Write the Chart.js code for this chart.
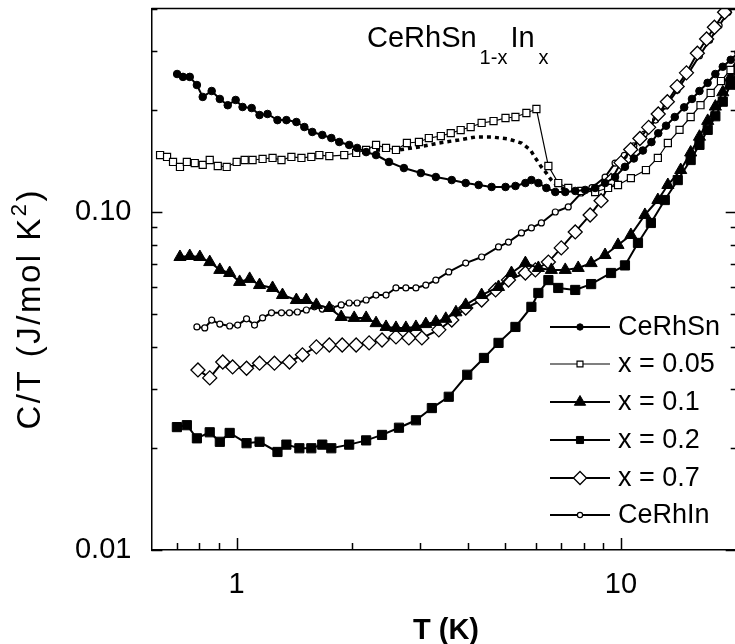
<!DOCTYPE html>
<html>
<head>
<meta charset="utf-8">
<script src="https://cdn.jsdelivr.net/npm/chart.js@4/dist/chart.umd.min.js"></script>
<style>
  html, body { margin: 0; padding: 0; background: #fff; overflow: hidden; }
  #wrap { width: 745px; height: 644px; }
</style>
</head>
<body>
<div id="wrap"><canvas id="chart" width="745" height="644"></canvas></div>
<script>
// T (K) and C/T (J/mol K^2)
const tCeRhSn = [0.70,0.725,0.755,0.788,0.816,0.861,0.904,0.948,0.994,1.036,1.094,1.147,1.203,1.277,1.347,1.43,1.50,1.573,1.67,1.763,1.849,1.962,2.058,2.172,2.305,2.491,2.724,3.015,3.298,3.628,3.944,4.262,4.606,5.006,5.313,5.639,5.846,6.095,6.394,6.746,7.16,7.602,8.069,8.564,9.09,9.65,10.24,10.8,11.4,12.0,12.5,13.1,13.8,14.6,15.3,16.0,16.8,17.6,18.4,19.3,20.2];
const cCeRhSn = [0.256,0.251,0.251,0.2375,0.219,0.228,0.216,0.207,0.2145,0.2045,0.203,0.1936,0.195,0.187,0.187,0.1846,0.1784,0.1725,0.169,0.1655,0.1611,0.1579,0.1547,0.1504,0.1474,0.1406,0.1349,0.1304,0.1269,0.1243,0.1218,0.1202,0.1186,0.1186,0.1194,0.1218,0.1243,0.1218,0.1178,0.1146,0.1146,0.1154,0.1162,0.1178,0.1218,0.1269,0.136,0.144,0.152,0.161,0.171,0.180,0.191,0.204,0.216,0.228,0.241,0.256,0.269,0.282,0.296];

const tX005 = [0.632,0.659,0.683,0.712,0.742,0.778,0.816,0.851,0.893,0.942,1.0,1.049,1.10,1.168,1.24,1.308,1.388,1.474,1.564,1.641,1.742,1.905,2.046,2.172,2.305,2.447,2.597,2.773,2.98,3.162,3.398,3.606,3.827,4.063,4.339,4.66,5.006,5.313,5.673,6.024,6.472,6.867,7.29,7.88,8.564,9.254,9.822,10.61,11.61,12.47,13.24,14.2,15.18,16.1,17.11,18.2,19.27,20.3];
const cX005 = [0.1474,0.1455,0.1406,0.1359,0.1406,0.1396,0.1378,0.1425,0.1368,0.1359,0.1406,0.1425,0.1425,0.1435,0.1445,0.1425,0.1455,0.1445,0.1455,0.1474,0.1464,0.1474,0.1495,0.1526,0.1579,0.1547,0.1526,0.16,0.1611,0.1655,0.1678,0.1712,0.1748,0.1784,0.1834,0.1858,0.1897,0.191,0.1963,0.2017,0.1368,0.1218,0.1178,0.1154,0.1146,0.1178,0.1202,0.126,0.1331,0.1445,0.16,0.175,0.191,0.207,0.225,0.244,0.2631,0.283];

// dotted curve next to x = 0.05 (no legend entry)
const tX005b = [2.305,2.644,2.98,3.357,3.783,4.185,4.606,5.096,5.508,5.811,5.987,6.206,6.394,6.588,6.867,7.29];
const cX005b = [0.1526,0.1526,0.1557,0.16,0.1633,0.1667,0.1667,0.1644,0.16,0.1526,0.1445,0.1359,0.1304,0.1243,0.1186,0.1162];

const tX01 = [0.712,0.755,0.802,0.851,0.904,0.959,1.018,1.081,1.147,1.24,1.316,1.43,1.518,1.612,1.742,1.871,2.022,2.172,2.305,2.447,2.597,2.756,2.927,3.106,3.298,3.5,3.72,3.944,4.339,4.801,5.188,5.639,6.095,6.588,7.16,7.738,8.362,9.09,9.822,10.61,11.54,12.47,13.24,14.3,15.18,16.0,16.81,17.6,18.4,19.27,20.2];
const cX01 = [0.0736,0.0741,0.0736,0.0711,0.0674,0.066,0.0621,0.0634,0.0608,0.0596,0.0568,0.0549,0.0549,0.0531,0.052,0.0489,0.0486,0.0486,0.0469,0.0457,0.0454,0.0454,0.0457,0.0466,0.0473,0.0483,0.0505,0.0531,0.0568,0.06,0.066,0.0706,0.0683,0.0674,0.0674,0.0683,0.0706,0.0746,0.0799,0.0855,0.098,0.1085,0.1202,0.1331,0.150,0.167,0.186,0.205,0.226,0.250,0.275];

const tX02 = [0.699,0.742,0.788,0.851,0.904,0.959,1.061,1.147,1.277,1.347,1.456,1.564,1.67,1.763,1.962,2.172,2.389,2.644,2.927,3.22,3.563,3.98,4.4,4.801,5.313,5.846,6.095,6.472,6.867,7.602,8.362,9.421,10.24,11.07,11.96,13.0,14.05,15.18,16.0,16.81,17.6,18.4,19.27,20.2];
const cX02 = [0.0231,0.0234,0.0214,0.0223,0.0209,0.0222,0.0207,0.0209,0.0195,0.0205,0.02,0.02,0.0205,0.02,0.0205,0.0211,0.0219,0.023,0.0242,0.0263,0.0284,0.033,0.037,0.041,0.0457,0.0524,0.0576,0.0629,0.0596,0.0588,0.0612,0.066,0.0695,0.081,0.0928,0.1085,0.1243,0.1425,0.158,0.175,0.192,0.212,0.238,0.262];

const tX07 = [0.793,0.851,0.92,0.976,1.061,1.147,1.254,1.372,1.483,1.612,1.742,1.882,2.046,2.211,2.389,2.597,2.806,3.033,3.357,3.628,3.944,4.339,4.717,5.096,5.639,5.987,6.472,6.992,7.602,8.312,8.875,9.42,10.0,10.6,11.2,11.8,12.5,13.2,14.0,14.8,15.8,16.7,17.5,18.6,19.5,20.3];
const cX07 = [0.0341,0.0323,0.036,0.0348,0.0345,0.0357,0.0357,0.036,0.0378,0.0399,0.0404,0.0404,0.0404,0.041,0.0418,0.0427,0.0424,0.0424,0.0448,0.0479,0.052,0.0549,0.0588,0.0629,0.066,0.0674,0.0711,0.0783,0.0873,0.098,0.108,0.124,0.140,0.153,0.165,0.178,0.195,0.212,0.235,0.258,0.295,0.325,0.352,0.39,0.42,0.45];

const tCeRhIn = [0.788,0.826,0.861,0.904,0.959,1.006,1.061,1.113,1.168,1.232,1.308,1.372,1.439,1.518,1.593,1.67,1.763,1.871,1.962,2.058,2.172,2.305,2.447,2.597,2.756,2.927,3.106,3.298,3.563,3.944,4.339,4.801,5.096,5.508,5.846,6.206,6.746,7.29,7.88,8.4,9.09,9.65,10.2,10.8,11.5,12.3,13.1,14.0,15.0,16.0,17.0,18.0,19.0,20.0];
const cCeRhIn = [0.0457,0.0454,0.0479,0.0466,0.046,0.0463,0.0483,0.0463,0.0486,0.0503,0.0503,0.0503,0.0506,0.0513,0.0524,0.0516,0.052,0.0531,0.0538,0.0538,0.0549,0.0568,0.0568,0.0596,0.0596,0.0596,0.0608,0.0629,0.0665,0.0706,0.0736,0.0788,0.0815,0.0867,0.0897,0.0928,0.1,0.1035,0.1138,0.118,0.1269,0.1396,0.147,0.157,0.17,0.187,0.206,0.229,0.258,0.29,0.322,0.356,0.39,0.425];

// axes
const xTickVals = [0.7,0.8,0.9,1,2,3,4,5,6,7,8,9,10,20];
const xMajor = [1, 10];
const xMajorLabels = ['1', '10'];
const yTickVals = [0.01,0.02,0.03,0.04,0.05,0.06,0.07,0.08,0.09,0.1,0.2,0.3,0.4];
const yMajor = [0.01, 0.1];
const yMajorLabels = ['0.01', '0.10'];

const FONT = "'Liberation Sans', Arial, sans-serif";

function pts(t, c) {
  return t.map((v, i) => ({ x: v, y: c[i] }));
}

const datasets = [
  { label: 'CeRhSn', data: pts(tCeRhSn, cCeRhSn), borderColor: '#000', borderWidth: 2,
    pointStyle: 'circle', pointRadius: 3.8, pointBackgroundColor: '#000', pointBorderColor: '#000', pointBorderWidth: 1,
    legendRadius: 3.2 },
  { label: 'x = 0.05', data: pts(tX005, cX005), borderColor: '#000', borderWidth: 1.2,
    pointStyle: 'rect', pointRadius: 5, pointBackgroundColor: '#fff', pointBorderColor: '#000', pointBorderWidth: 1.2,
    legendRadius: 4.2 },
  { label: '', data: pts(tX005b, cX005b), borderColor: '#000', borderWidth: 3.5, borderDash: [4, 4],
    pointRadius: 0, noLegend: true },
  { label: 'x = 0.1', data: pts(tX01, cX01), borderColor: '#000', borderWidth: 2,
    pointStyle: 'triangle', pointRadius: 7, pointBackgroundColor: '#000', pointBorderColor: '#000', pointBorderWidth: 1,
    legendRadius: 6.5 },
  { label: 'x = 0.2', data: pts(tX02, cX02), borderColor: '#000', borderWidth: 2,
    pointStyle: 'rect', pointRadius: 6.5, pointBackgroundColor: '#000', pointBorderColor: '#000', pointBorderWidth: 1,
    legendRadius: 5 },
  { label: 'x = 0.7', data: pts(tX07, cX07), borderColor: '#000', borderWidth: 2,
    pointStyle: 'rectRot', pointRadius: 7, pointBackgroundColor: '#fff', pointBorderColor: '#000', pointBorderWidth: 1.3,
    legendRadius: 6.5 },
  { label: 'CeRhIn', data: pts(tCeRhIn, cCeRhIn), borderColor: '#000', borderWidth: 2,
    pointStyle: 'circle', pointRadius: 3, pointBackgroundColor: '#fff', pointBorderColor: '#000', pointBorderWidth: 1.2,
    legendRadius: 2.6 }
];
datasets.forEach(d => { d.showLine = true; d.fill = false; d.tension = 0; });

const framePlugin = {
  id: 'frame',
  afterDraw(chart) {
    const { ctx, chartArea: a, scales: { x, y } } = chart;
    ctx.save();
    ctx.strokeStyle = '#000';
    ctx.lineWidth = 1.5;

    ctx.beginPath();
    ctx.moveTo(a.left, a.top);
    ctx.lineTo(a.right, a.top);
    ctx.lineTo(a.right, a.bottom);
    ctx.stroke();

    // inward ticks
    ctx.beginPath();
    xTickVals.forEach(v => {
      const px = Math.round(x.getPixelForValue(v)) + 0.5;
      const len = xMajor.includes(v) ? 12 : 7;
      ctx.moveTo(px, a.bottom);
      ctx.lineTo(px, a.bottom - len);
    });
    yTickVals.forEach(v => {
      const py = Math.round(y.getPixelForValue(v)) + 0.5;
      const len = yMajor.includes(v) ? 11 : 6;
      ctx.moveTo(a.left, py);
      ctx.lineTo(a.left + len, py);
      ctx.moveTo(a.right, py);
      ctx.lineTo(a.right - len, py);
    });
    ctx.stroke();

    ctx.fillStyle = '#000';
    ctx.textBaseline = 'alphabetic';
    ctx.textAlign = 'left';

    // title CeRhSn1-xInx
    let tx = 367;
    ctx.font = '29px ' + FONT;
    ctx.fillText('CeRhSn', tx, 47);
    tx += ctx.measureText('CeRhSn').width + 3;
    ctx.font = '20px ' + FONT;
    ctx.fillText('1-x', tx, 64);
    tx += ctx.measureText('1-x').width + 3;
    ctx.font = '29px ' + FONT;
    ctx.fillText('In', tx, 47);
    tx += ctx.measureText('In').width + 4;
    ctx.font = '20px ' + FONT;
    ctx.fillText('x', tx, 64);

    // y axis title, written bottom to top, ending near y = 188
    ctx.save();
    ctx.letterSpacing = '2.5px';
    ctx.font = '33px ' + FONT;
    const mainW = ctx.measureText('C/T (J/mol K').width;
    const parenW = ctx.measureText(')').width;
    ctx.font = '22px ' + FONT;
    const supW = ctx.measureText('2').width;
    const total = mainW + supW + parenW;
    ctx.translate(40, 188 + total);
    ctx.rotate(-Math.PI / 2);
    ctx.font = '33px ' + FONT;
    ctx.fillText('C/T (J/mol K', 0, 0);
    ctx.font = '22px ' + FONT;
    ctx.fillText('2', mainW, -14);
    ctx.font = '33px ' + FONT;
    ctx.fillText(')', mainW + supW, 0);
    ctx.restore();

    // x axis title
    ctx.font = 'bold 29px ' + FONT;
    ctx.textAlign = 'center';
    ctx.fillText('T (K)', 446, 639);

    // legend
    const rows = [327, 364, 402, 440, 478, 515];
    const shown = chart.data.datasets.filter(d => !d.noLegend);
    ctx.textAlign = 'left';
    ctx.textBaseline = 'middle';
    shown.forEach((d, i) => {
      const ly = rows[i];
      ctx.strokeStyle = '#000';
      ctx.lineWidth = d.borderWidth;
      ctx.setLineDash([]);
      ctx.beginPath();
      ctx.moveTo(550, ly);
      ctx.lineTo(610, ly);
      ctx.stroke();
      ctx.fillStyle = d.pointBackgroundColor;
      ctx.strokeStyle = d.pointBorderColor;
      ctx.lineWidth = d.pointBorderWidth;
      Chart.helpers.drawPoint(ctx, { pointStyle: d.pointStyle, radius: d.legendRadius, rotation: 0, borderWidth: d.pointBorderWidth }, 580, ly);
      ctx.fillStyle = '#000';
      ctx.font = '27px ' + FONT;
      ctx.fillText(d.label, 618, ly + 1);
    });
    ctx.restore();
  }
};

new Chart(document.getElementById('chart'), {
  type: 'scatter',
  data: { datasets },
  options: {
    responsive: false,
    animation: false,
    devicePixelRatio: 1,
    layout: { padding: { top: 8.5, right: 5.8, left: 0, bottom: 0 } },
    plugins: { legend: { display: false }, tooltip: { enabled: false } },
    scales: {
      x: {
        type: 'logarithmic', min: 0.6, max: 20,
        afterBuildTicks: s => { s.ticks = xTickVals.map(v => ({ value: v })); },
        afterFit: s => { s.height = 94; s.paddingLeft = 0; s.paddingRight = 0; },
        grid: { display: false, drawTicks: false },
        border: { display: true, color: '#000', width: 1.5 },
        ticks: {
          autoSkip: false, maxRotation: 0, padding: 18, color: '#000',
          font: { family: FONT, size: 29 },
          callback: v => { const i = xMajor.indexOf(v); return i >= 0 ? xMajorLabels[i] : ''; }
        }
      },
      y: {
        type: 'logarithmic', min: 0.01, max: 0.4,
        afterBuildTicks: s => { s.ticks = yTickVals.map(v => ({ value: v })); },
        afterFit: s => { s.width = 151.4; s.paddingTop = 0; s.paddingBottom = 0; },
        grid: { display: false, drawTicks: false },
        border: { display: true, color: '#000', width: 1.5 },
        ticks: {
          autoSkip: false, padding: 20, color: '#000',
          font: { family: FONT, size: 29 },
          callback: v => { const i = yMajor.indexOf(v); return i >= 0 ? yMajorLabels[i] : ''; }
        }
      }
    }
  },
  plugins: [framePlugin]
});
</script>
</body>
</html>
